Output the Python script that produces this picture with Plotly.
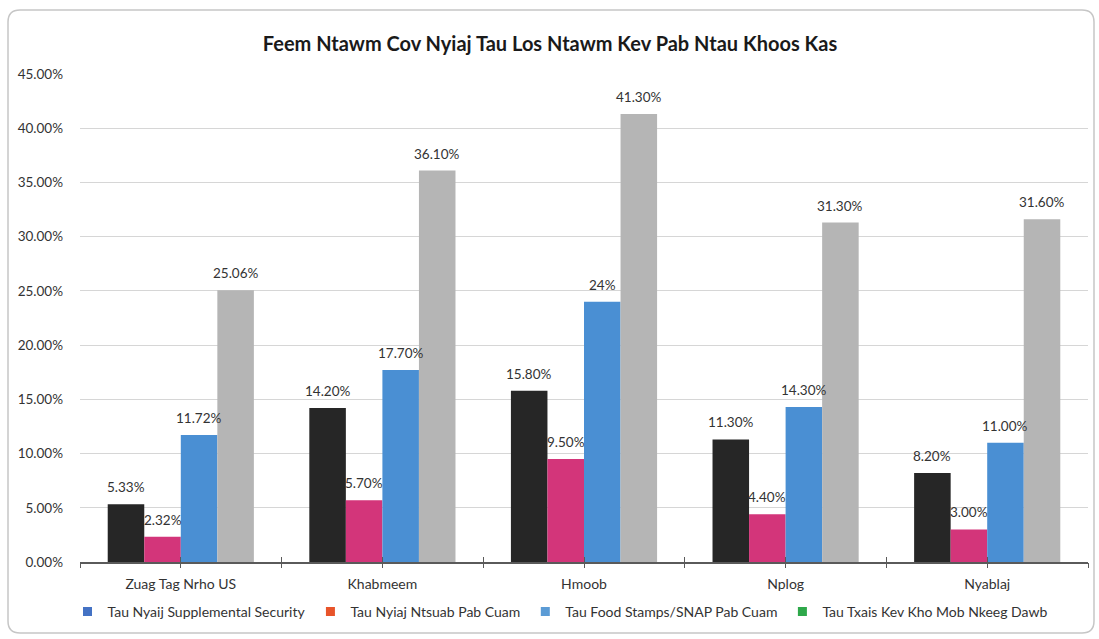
import plotly.graph_objects as go

categories = ["Zuag Tag Nrho US", "Khabmeem", "Hmoob", "Nplog", "Nyablaj"]
series_names = [
    "Tau Nyaij Supplemental Security",
    "Tau Nyiaj Ntsuab Pab Cuam",
    "Tau Food Stamps/SNAP Pab Cuam",
    "Tau Txais Kev Kho Mob Nkeeg Dawb",
]
ssi = [5.33, 14.20, 15.80, 11.30, 8.20]
cash = [2.32, 5.70, 9.50, 4.40, 3.00]
snap = [11.72, 17.70, 24.00, 14.30, 11.00]
medical = [25.06, 36.10, 41.30, 31.30, 31.60]
ssi_labels = ["5.33%", "14.20%", "15.80%", "11.30%", "8.20%"]
cash_labels = ["2.32%", "5.70%", "9.50%", "4.40%", "3.00%"]
snap_labels = ["11.72%", "17.70%", "24%", "14.30%", "11.00%"]
medical_labels = ["25.06%", "36.10%", "41.30%", "31.30%", "31.60%"]
title_text = "Feem Ntawm Cov Nyiaj Tau Los Ntawm Kev Pab Ntau Khoos Kas"

bar_colors = ["#262626", "#d3357a", "#4a8fd3", "#b5b5b5"]
legend_colors = ["#4472c4", "#e8542a", "#5b9bd5", "#2ea84a"]
FONT = "Lato"

W, H = 1099, 639
L, R, T, B = 80, 11, 74, 77
BARGAP = 0.275

pw = W - L - R
ph = H - T - B
bar_px = pw / len(categories) * (1 - BARGAP) / 4

fig = go.Figure()
all_vals = [ssi, cash, snap, medical]
all_labs = [ssi_labels, cash_labels, snap_labels, medical_labels]
for vals, col in zip(all_vals, bar_colors):
    fig.add_trace(go.Bar(
        x=categories, y=vals,
        marker=dict(color=col, line=dict(width=0)),
        showlegend=False, hoverinfo="skip",
    ))

for i, (vals, labs) in enumerate(zip(all_vals, all_labs)):
    for c, v, t in zip(categories, vals, labs):
        fig.add_annotation(
            x=c, y=v, text=t, showarrow=False,
            xanchor="center", yanchor="bottom",
            xshift=(i - 1.5) * bar_px, yshift=7,
            font=dict(family=FONT, size=13.5, color="#333333"),
        )

for i, (name, col) in enumerate(zip(series_names, legend_colors)):
    fig.add_trace(go.Scatter(
        x=[None], y=[None], mode="markers", name=name,
        marker=dict(symbol="square", size=9, color=col),
        xaxis="x2" if i < 2 else "x3",
    ))

def px(x):
    return (x - L) / pw
def py(y):
    return (H - B - y) / ph

x0, x1, y0, y1, r = 8, 1094, 10, 633, 12
path = (
    f"M {px(x0 + r)},{py(y0)} L {px(x1 - r)},{py(y0)} "
    f"Q {px(x1)},{py(y0)} {px(x1)},{py(y0 + r)} "
    f"L {px(x1)},{py(y1 - r)} Q {px(x1)},{py(y1)} {px(x1 - r)},{py(y1)} "
    f"L {px(x0 + r)},{py(y1)} Q {px(x0)},{py(y1)} {px(x0)},{py(y1 - r)} "
    f"L {px(x0)},{py(y0 + r)} Q {px(x0)},{py(y0)} {px(x0 + r)},{py(y0)} Z"
)
fig.add_shape(type="path", path=path, xref="paper", yref="paper",
              line=dict(color="#c6c6c6", width=1.5), layer="below")

tick_axis = dict(
    overlaying="x", anchor="y", side="bottom", type="linear",
    range=[-0.5, 4.5], dtick=0.5, tick0=-0.5,
    ticklen=5, tickcolor="#5a5a5a", tickwidth=1.2,
    showticklabels=False, showgrid=False, zeroline=False, showline=False,
)

fig.update_layout(
    width=W, height=H,
    margin=dict(l=L, r=R, t=T, b=B, pad=0),
    paper_bgcolor="white", plot_bgcolor="white",
    barmode="group", bargap=BARGAP, bargroupgap=0,
    title=dict(text=title_text, x=550 / W, xanchor="center",
               y=1 - 44 / H, yanchor="middle",
               font=dict(family=FONT, size=20, color="#1a1a1a", weight="bold")),
    font=dict(family=FONT, color="#404040"),
    xaxis=dict(
        type="category", showgrid=False, showline=True,
        linecolor="#5a5a5a", linewidth=1.5, ticks="",
        tickfont=dict(family=FONT, size=14, color="#333333"),
        ticklabelstandoff=8,
        range=[-0.5, 4.5], fixedrange=True,
    ),
    xaxis2=dict(tick_axis, ticks="outside"),
    xaxis3=dict(tick_axis, ticks="inside"),
    yaxis=dict(
        range=[0, 45], dtick=5, tickformat=".2f", ticksuffix="%",
        showgrid=True, gridcolor="#d6d6d6", gridwidth=1.4,
        zeroline=False, showline=False, ticks="",
        tickfont=dict(family=FONT, size=13.5, color="#333333"),
        ticklabelstandoff=16,
    ),
    legend=dict(orientation="h", x=(560 - L) / pw, xanchor="center",
                y=py(612), yanchor="middle",
                font=dict(family=FONT, size=14, color="#333333"),
                itemwidth=30, tracegroupgap=0, bgcolor="rgba(0,0,0,0)"),
)

fig.write_html("out.html", post_script="document.body.style.margin='0';",
               config={"displayModeBar": False})
